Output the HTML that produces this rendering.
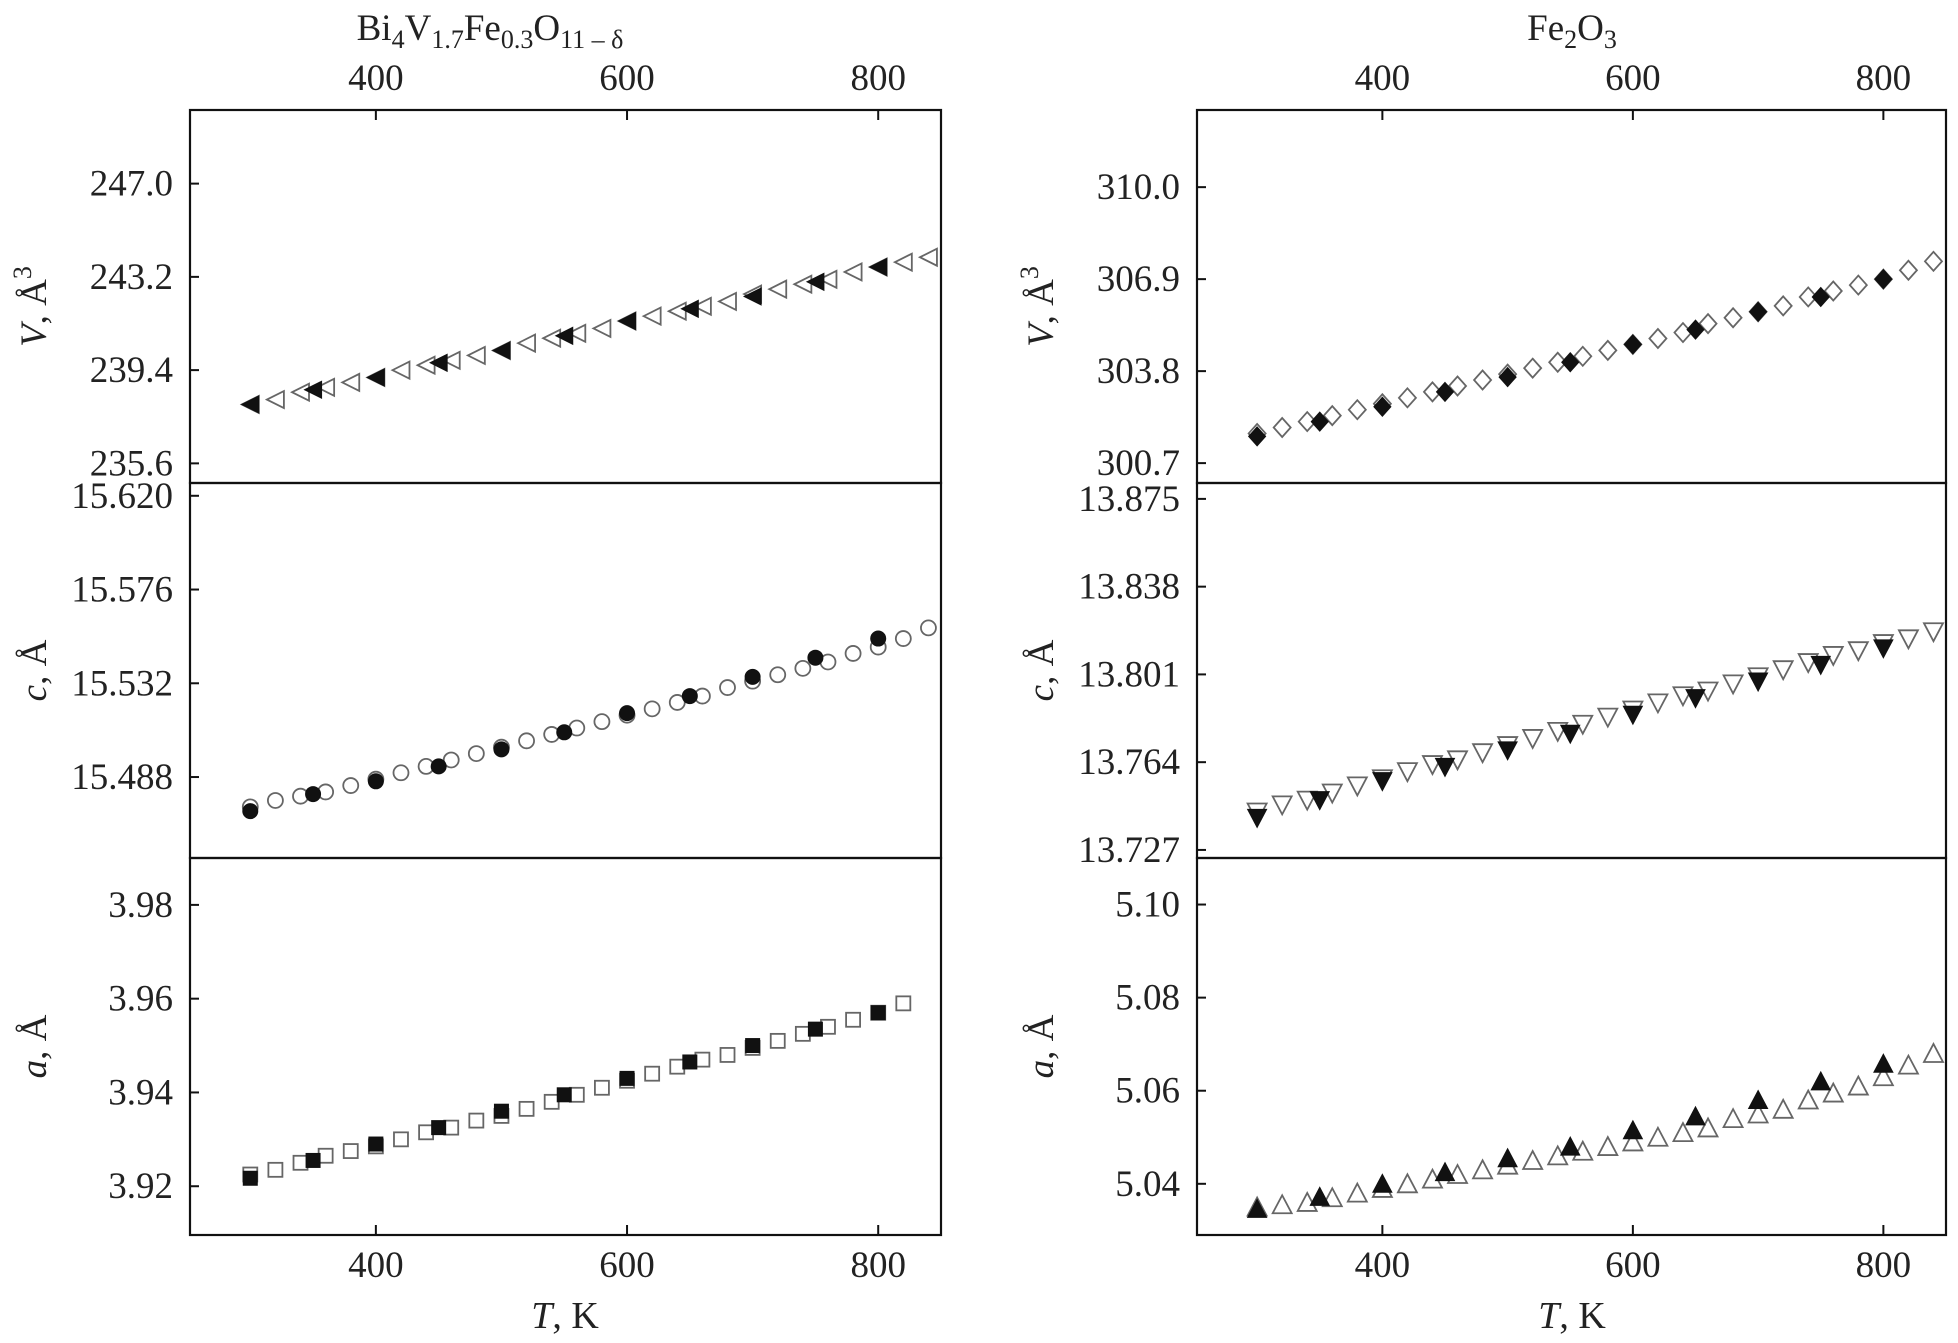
<!DOCTYPE html>
<html><head><meta charset="utf-8"><style>
html,body{margin:0;padding:0;background:#fff}
svg{display:block}
text{font-family:"Liberation Serif",serif;fill:#222}
</style></head><body>
<svg id="chart" width="1958" height="1343" viewBox="0 0 1958 1343"></svg>
<script>
const openT = [300,320,340,360,380,400,420,440,460,480,500,520,540,560,580,600,620,640,660,680,700,720,740,760,780,800,820,840];
const filledT = [300,350,400,450,500,550,600,650,700,750,800];
const xTicks = [400,600,800];

const leftVOpen = [238.0,238.2,238.5,238.7,238.9,239.1,239.4,239.6,239.8,240.0,240.2,240.5,240.7,240.9,241.1,241.4,241.6,241.8,242.0,242.2,242.5,242.7,242.9,243.1,243.4,243.6,243.8,244.0];
const leftVFilled = [238.0,238.6,239.1,239.7,240.2,240.8,241.4,241.9,242.4,243.0,243.6];
const leftCOpen = [15.474,15.477,15.479,15.481,15.484,15.487,15.490,15.493,15.496,15.499,15.502,15.505,15.508,15.511,15.514,15.517,15.520,15.523,15.526,15.530,15.533,15.536,15.539,15.542,15.546,15.549,15.553,15.558];
const leftCFilled = [15.472,15.480,15.486,15.493,15.501,15.509,15.518,15.526,15.535,15.544,15.553];
const leftAOpen = [3.9225,3.9235,3.9250,3.9265,3.9275,3.9285,3.9300,3.9315,3.9325,3.9340,3.9350,3.9365,3.9380,3.9395,3.9410,3.9425,3.9440,3.9455,3.9470,3.9480,3.9495,3.9510,3.9525,3.9540,3.9555,3.9570,3.9590];
const leftAFilled = [3.9217,3.9255,3.9290,3.9325,3.9360,3.9395,3.9430,3.9465,3.9500,3.9535,3.9570];
const rightVOpen = [301.7,301.9,302.1,302.3,302.5,302.7,302.9,303.1,303.3,303.5,303.7,303.9,304.1,304.3,304.5,304.7,304.9,305.1,305.4,305.6,305.8,306.0,306.3,306.5,306.7,306.9,307.2,307.5];
const rightVFilled = [301.6,302.1,302.6,303.1,303.6,304.1,304.7,305.2,305.8,306.3,306.9];
const rightCOpen = [13.743,13.746,13.748,13.751,13.754,13.757,13.760,13.763,13.765,13.768,13.771,13.774,13.777,13.780,13.783,13.786,13.789,13.792,13.794,13.797,13.800,13.803,13.806,13.809,13.811,13.814,13.816,13.819];
const rightCFilled = [13.7405,13.748,13.756,13.762,13.769,13.776,13.784,13.791,13.798,13.805,13.812];
const rightAOpen = [5.035,5.0355,5.036,5.037,5.038,5.039,5.040,5.041,5.042,5.043,5.044,5.045,5.046,5.047,5.048,5.049,5.050,5.051,5.052,5.054,5.055,5.056,5.058,5.0595,5.061,5.063,5.0655,5.068];
const rightAFilled = [5.0346,5.0372,5.040,5.0425,5.0455,5.048,5.0515,5.0545,5.058,5.062,5.0658];

const ticksLV = ["247.0","243.2","239.4","235.6"];
const ticksLC = ["15.620","15.576","15.532","15.488"];
const ticksLA = ["3.98","3.96","3.94","3.92"];
const ticksRV = ["310.0","306.9","303.8","300.7"];
const ticksRC = ["13.875","13.838","13.801","13.764","13.727"];
const ticksRA = ["5.10","5.08","5.06","5.04"];

const NS="http://www.w3.org/2000/svg";
const svg=document.getElementById('chart');
function el(tag,attrs,parent){const e=document.createElementNS(NS,tag);for(const k in attrs)e.setAttribute(k,attrs[k]);(parent||svg).appendChild(e);return e;}

const T0=252,T1=850;
const cols=[{x0:190,x1:941},{x0:1197,x1:1946}];
const rows=[{y0:110,y1:483},{y0:483,y1:858},{y0:858,y1:1235}];

const panels=[
 {c:0,r:0,dom:[234.8,250.0],ticks:ticksLV,open:leftVOpen,fill:leftVFilled,mk:'left',name:'bi-volume',label:'V, Å',sup:'3'},
 {c:0,r:1,dom:[15.450,15.626],ticks:ticksLC,open:leftCOpen,fill:leftCFilled,mk:'circle',name:'bi-c',label:'c, Å'},
 {c:0,r:2,dom:[3.9096,3.990],ticks:ticksLA,open:leftAOpen,fill:leftAFilled,mk:'square',name:'bi-a',label:'a, Å'},
 {c:1,r:0,dom:[300.03,312.6],ticks:ticksRV,open:rightVOpen,fill:rightVFilled,mk:'diamond',name:'fe-volume',label:'V, Å',sup:'3'},
 {c:1,r:1,dom:[13.7236,13.8817],ticks:ticksRC,open:rightCOpen,fill:rightCFilled,mk:'down',name:'fe-c',label:'c, Å'},
 {c:1,r:2,dom:[5.029,5.110],ticks:ticksRA,open:rightAOpen,fill:rightAFilled,mk:'up',name:'fe-a',label:'a, Å'}
];

function marker(g,kind,cx,cy,filled){
  const s=8.5;let e;
  const st=filled?{fill:'#111',stroke:'#111','stroke-width':1}:{fill:'none',stroke:'#666','stroke-width':1.8};
  if(kind==='circle'){e=el('circle',Object.assign({cx:cx,cy:cy,r:7.5},st),g);}
  else if(kind==='square'){e=el('rect',Object.assign({x:cx-7,y:cy-7,width:14,height:14},st),g);}
  else{
    let p;
    if(kind==='left')p=[[cx-s,cy],[cx+s,cy-s],[cx+s,cy+s]];
    if(kind==='up')p=[[cx,cy-s-1],[cx+s+1,cy+s],[cx-s-1,cy+s]];
    if(kind==='down')p=[[cx,cy+s+1],[cx+s+1,cy-s],[cx-s-1,cy-s]];
    if(kind==='diamond')p=[[cx,cy-s-1],[cx+s,cy],[cx,cy+s+1],[cx-s,cy]];
    e=el('polygon',Object.assign({points:p.map(q=>q.join(',')).join(' ')},st),g);
  }
  return e;
}

panels.forEach(p=>{
  const C=cols[p.c],R=rows[p.r];
  const xs=t=>C.x0+(t-T0)/(T1-T0)*(C.x1-C.x0);
  const ys=v=>R.y1-(v-p.dom[0])/(p.dom[1]-p.dom[0])*(R.y1-R.y0);
  const g=el('g',{});
  
  
  const fr=el('rect',{x:C.x0,y:R.y0,width:C.x1-C.x0,height:R.y1-R.y0,fill:'none',stroke:'#111','stroke-width':2.2},g);
  
  
  p.ticks.forEach(t=>{
    const y=ys(parseFloat(t));
    el('line',{x1:C.x0,x2:C.x0+9,y1:y,y2:y,stroke:'#111','stroke-width':2},g);
    const tx=el('text',{x:C.x0-17,y:y+12,'text-anchor':'end','font-size':37},g);
    tx.textContent=t;
    
    
  });
  if(p.r===0||p.r===2){
    xTicks.forEach(t=>{
      const x=xs(t);
      if(p.r===0)el('line',{x1:x,x2:x,y1:R.y0,y2:R.y0+10,stroke:'#111','stroke-width':2},g);
      else el('line',{x1:x,x2:x,y1:R.y1,y2:R.y1-10,stroke:'#111','stroke-width':2},g);
      const tx=el('text',{x:x,y:p.r===0?90:1277,'text-anchor':'middle','font-size':37},g);
      tx.textContent=t;
      
      
    });
  }
  const ly=(R.y0+R.y1)/2 + (p.r===0?10:0);
  const lx=C.x0-144;
  const lab=el('text',{x:lx,y:ly,'font-size':37,transform:`rotate(-90 ${lx} ${ly})`,'text-anchor':'middle'},g);
  const parts=p.label.split(',');
  const it=el('tspan',{'font-style':'italic'},lab);it.textContent=parts[0];
  const rest=el('tspan',{},lab);rest.textContent=','+parts[1];
  if(p.sup){const sp=el('tspan',{dy:-15,'font-size':26},lab);sp.textContent=p.sup;}
  
  
  const og=el('g',{},g);
  
  
  p.open.forEach((v,i)=>{
    const m=marker(og,p.mk,xs(openT[i]),ys(v),false);
    
    
  });
  const fg=el('g',{},g);
  
  
  p.fill.forEach((v,i)=>{
    const m=marker(fg,p.mk,xs(filledT[i]),ys(v),true);
    
    
  });
});

const t1=el('text',{x:490,y:40,'text-anchor':'middle','font-size':37});
t1.innerHTML='Bi<tspan dy="8" font-size="26">4</tspan><tspan dy="-8">V</tspan><tspan dy="8" font-size="26">1.7</tspan><tspan dy="-8">Fe</tspan><tspan dy="8" font-size="26">0.3</tspan><tspan dy="-8">O</tspan><tspan dy="8" font-size="26">11 – δ</tspan>';


const t2=el('text',{x:1572,y:40,'text-anchor':'middle','font-size':37});
t2.innerHTML='Fe<tspan dy="8" font-size="26">2</tspan><tspan dy="-8">O</tspan><tspan dy="8" font-size="26">3</tspan>';


[[565,'left-x-axis-title'],[1572,'right-x-axis-title']].forEach(a=>{
  const t=el('text',{x:a[0],y:1328,'text-anchor':'middle','font-size':38});
  t.innerHTML='<tspan font-style="italic">T</tspan>, K';
  
  
});
</script>
</body></html>
